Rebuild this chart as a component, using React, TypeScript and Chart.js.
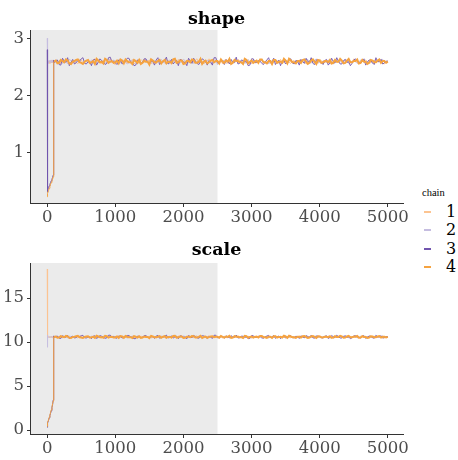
import React, { useEffect, useRef } from "react";
import { Chart, registerables } from "chart.js";
Chart.register(...registerables);

// ---------- data ----------
const CHAINS = ["1", "2", "3", "4"];
const CHAIN_COLORS = ["#FCC491", "#C5BDE0", "#7154AE", "#F5A340"];
const WARMUP = 2500;
const X_TICKS = [0, 1000, 2000, 3000, 4000, 5000];
const SHAPE_TICKS = [1, 2, 3];
const SCALE_TICKS = [0, 5, 10, 15];

// iterations at which the traces are sampled
const EARLY_ITERS = [1, 2, 5, 10, 20, 30, 40, 50, 60, 70, 80, 88, 92, 96];
const ITERS_A: number[] = []; // 100, 150, ..., 5000
for (let it = 100; it <= 5000; it += 50) ITERS_A.push(it);
const ITERS_B: number[] = []; // 125, 175, ..., 4975
for (let it = 125; it <= 4975; it += 50) ITERS_B.push(it);

// shape: early part (EARLY_ITERS)
const shapeEarly1 = [1.26, 2.6, 2.57, 2.62, 2.58, 2.6, 2.56, 2.61, 2.59, 2.57, 2.62, 2.58, 2.6, 2.57];
const shapeEarly2 = [3.0, 2.62, 2.58, 2.6, 2.56, 2.61, 2.59, 2.57, 2.62, 2.58, 2.6, 2.57, 2.61, 2.59];
const shapeEarly3 = [2.8, 0.3, 0.32, 0.34, 0.38, 0.41, 0.44, 0.47, 0.5, 0.53, 0.56, 0.6, 2.05, 2.62];
const shapeEarly4 = [0.22, 0.24, 0.26, 0.28, 0.33, 0.37, 0.4, 0.44, 0.47, 0.5, 0.53, 0.57, 1.8, 2.55];

// shape: ITERS_A
const shape1A = [
  2.58, 2.61, 2.56, 2.6, 2.63, 2.57, 2.59, 2.55, 2.62, 2.58,
  2.6, 2.57, 2.64, 2.59, 2.56, 2.61, 2.58, 2.6, 2.54, 2.62,
  2.59, 2.57, 2.61, 2.63, 2.58, 2.56, 2.6, 2.59, 2.62, 2.57,
  2.55, 2.6, 2.58, 2.63, 2.59, 2.61, 2.56, 2.58, 2.6, 2.62,
  2.57, 2.59, 2.64, 2.58, 2.55, 2.61, 2.6, 2.57, 2.59, 2.62,
  2.58, 2.56, 2.61, 2.59, 2.63, 2.57, 2.6, 2.58, 2.55, 2.62,
  2.59, 2.61, 2.57, 2.6, 2.58, 2.63, 2.56, 2.59, 2.61, 2.58,
  2.6, 2.57, 2.62, 2.59, 2.55, 2.61, 2.58, 2.6, 2.63, 2.57,
  2.59, 2.56, 2.61, 2.58, 2.62, 2.6, 2.57, 2.59, 2.64, 2.58,
  2.56, 2.61, 2.59, 2.57, 2.62, 2.6, 2.58, 2.55, 2.6,
];
const shape2A = [
  2.6, 2.57, 2.62, 2.58, 2.55, 2.61, 2.59, 2.63, 2.57, 2.6,
  2.58, 2.62, 2.56, 2.59, 2.61, 2.57, 2.64, 2.58, 2.6, 2.55,
  2.61, 2.59, 2.57, 2.62, 2.58, 2.6, 2.56, 2.63, 2.59, 2.61,
  2.57, 2.6, 2.58, 2.55, 2.62, 2.59, 2.61, 2.57, 2.63, 2.58,
  2.6, 2.56, 2.59, 2.62, 2.58, 2.61, 2.57, 2.6, 2.54, 2.59,
  2.62, 2.58, 2.6, 2.57, 2.61, 2.59, 2.56, 2.63, 2.58, 2.6,
  2.57, 2.62, 2.59, 2.55, 2.61, 2.58, 2.6, 2.57, 2.63, 2.59,
  2.56, 2.61, 2.58, 2.6, 2.62, 2.57, 2.59, 2.64, 2.58, 2.61,
  2.57, 2.6, 2.55, 2.62, 2.59, 2.58, 2.61, 2.57, 2.6, 2.56,
  2.62, 2.58, 2.59, 2.61, 2.57, 2.6, 2.63, 2.58, 2.59,
];
const shape3A = [
  2.57, 2.62, 2.53, 2.6, 2.66, 2.58, 2.55, 2.61, 2.64, 2.56,
  2.59, 2.52, 2.63, 2.58, 2.61, 2.54, 2.66, 2.59, 2.57, 2.62,
  2.55, 2.6, 2.65, 2.57, 2.53, 2.61, 2.58, 2.64, 2.56, 2.6,
  2.62, 2.54, 2.59, 2.67, 2.57, 2.55, 2.61, 2.63, 2.58, 2.52,
  2.6, 2.65, 2.56, 2.59, 2.62, 2.53, 2.58, 2.66, 2.57, 2.61,
  2.54, 2.6, 2.63, 2.58, 2.55, 2.62, 2.59, 2.52, 2.64, 2.57,
  2.61, 2.56, 2.59, 2.66, 2.58, 2.54, 2.62, 2.6, 2.55, 2.63,
  2.57, 2.61, 2.53, 2.59, 2.65, 2.58, 2.56, 2.62, 2.6, 2.54,
  2.63, 2.57, 2.59, 2.66, 2.55, 2.61, 2.58, 2.52, 2.62, 2.6,
  2.56, 2.64, 2.58, 2.61, 2.54, 2.59, 2.63, 2.57, 2.6,
];
const shape4A = [
  2.59, 2.56, 2.62, 2.58, 2.61, 2.55, 2.6, 2.63, 2.57, 2.59,
  2.62, 2.58, 2.55, 2.61, 2.59, 2.64, 2.57, 2.6, 2.58, 2.56,
  2.61, 2.63, 2.58, 2.55, 2.6, 2.62, 2.57, 2.59, 2.54, 2.61,
  2.58, 2.62, 2.6, 2.56, 2.59, 2.63, 2.57, 2.61, 2.55, 2.6,
  2.58, 2.62, 2.57, 2.64, 2.59, 2.56, 2.61, 2.58, 2.6, 2.63,
  2.57, 2.59, 2.55, 2.62, 2.6, 2.58, 2.64, 2.56, 2.61, 2.59,
  2.57, 2.63, 2.58, 2.6, 2.55, 2.62, 2.59, 2.57, 2.61, 2.64,
  2.58, 2.56, 2.6, 2.62, 2.59, 2.57, 2.63, 2.55, 2.61, 2.58,
  2.6, 2.62, 2.57, 2.59, 2.64, 2.56, 2.61, 2.58, 2.6, 2.63,
  2.57, 2.59, 2.55, 2.62, 2.58, 2.61, 2.57, 2.6, 2.59,
];
// shape: ITERS_B
const shape1B = [
  2.6, 2.57, 2.62, 2.59, 2.56, 2.61, 2.58, 2.63, 2.57, 2.6,
  2.55, 2.62, 2.59, 2.57, 2.61, 2.58, 2.64, 2.56, 2.6, 2.58,
  2.62, 2.57, 2.59, 2.55, 2.61, 2.63, 2.58, 2.6, 2.56, 2.59,
  2.62, 2.57, 2.61, 2.58, 2.54, 2.6, 2.63, 2.59, 2.57, 2.61,
  2.58, 2.62, 2.56, 2.6, 2.59, 2.64, 2.57, 2.61, 2.58, 2.55,
  2.6, 2.62, 2.57, 2.59, 2.61, 2.56, 2.63, 2.58, 2.6, 2.57,
  2.62, 2.59, 2.55, 2.61, 2.58, 2.6, 2.63, 2.57, 2.59, 2.56,
  2.61, 2.58, 2.62, 2.6, 2.57, 2.64, 2.59, 2.56, 2.61, 2.58,
  2.6, 2.55, 2.62, 2.59, 2.57, 2.61, 2.63, 2.58, 2.6, 2.56,
  2.59, 2.62, 2.57, 2.6, 2.58, 2.61, 2.56, 2.59,
];
const shape2B = [
  2.58, 2.61, 2.56, 2.6, 2.63, 2.57, 2.59, 2.62, 2.55, 2.6,
  2.58, 2.61, 2.57, 2.63, 2.59, 2.56, 2.6, 2.62, 2.58, 2.57,
  2.61, 2.55, 2.59, 2.62, 2.6, 2.57, 2.64, 2.58, 2.56, 2.61,
  2.59, 2.63, 2.57, 2.6, 2.58, 2.62, 2.56, 2.59, 2.61, 2.57,
  2.63, 2.58, 2.6, 2.55, 2.61, 2.59, 2.57, 2.62, 2.58, 2.6,
  2.56, 2.61, 2.59, 2.63, 2.57, 2.6, 2.58, 2.55, 2.62, 2.59,
  2.61, 2.57, 2.6, 2.58, 2.64, 2.56, 2.59, 2.61, 2.57, 2.62,
  2.58, 2.6, 2.56, 2.59, 2.63, 2.57, 2.61, 2.58, 2.55, 2.6,
  2.62, 2.59, 2.57, 2.61, 2.58, 2.63, 2.56, 2.6, 2.59, 2.57,
  2.61, 2.58, 2.62, 2.56, 2.6, 2.59, 2.63, 2.58,
];
const shape3B = [
  2.61, 2.54, 2.65, 2.58, 2.52, 2.63, 2.57, 2.6, 2.66, 2.55,
  2.59, 2.62, 2.53, 2.64, 2.58, 2.56, 2.67, 2.6, 2.54, 2.61,
  2.57, 2.65, 2.59, 2.52, 2.62, 2.56, 2.64, 2.58, 2.6, 2.53,
  2.66, 2.57, 2.61, 2.55, 2.63, 2.59, 2.52, 2.62, 2.58, 2.65,
  2.56, 2.6, 2.54, 2.64, 2.59, 2.61, 2.53, 2.66, 2.57, 2.6,
  2.63, 2.55, 2.58, 2.67, 2.56, 2.61, 2.59, 2.53, 2.64, 2.58,
  2.6, 2.54, 2.62, 2.57, 2.65, 2.59, 2.52, 2.61, 2.58, 2.64,
  2.55, 2.6, 2.63, 2.56, 2.59, 2.66, 2.54, 2.62, 2.58, 2.61,
  2.53, 2.65, 2.57, 2.6, 2.55, 2.63, 2.59, 2.56, 2.64, 2.58,
  2.61, 2.53, 2.62, 2.57, 2.66, 2.59, 2.55, 2.6,
];
const shape4B = [
  2.61, 2.57, 2.6, 2.63, 2.56, 2.59, 2.62, 2.58, 2.55, 2.61,
  2.57, 2.6, 2.64, 2.58, 2.56, 2.62, 2.59, 2.57, 2.61, 2.63,
  2.56, 2.6, 2.58, 2.62, 2.57, 2.55, 2.61, 2.59, 2.63, 2.58,
  2.6, 2.56, 2.62, 2.59, 2.57, 2.64, 2.58, 2.61, 2.56, 2.6,
  2.63, 2.57, 2.59, 2.55, 2.61, 2.58, 2.62, 2.6, 2.56, 2.59,
  2.61, 2.64, 2.57, 2.6, 2.58, 2.55, 2.62, 2.59, 2.57, 2.61,
  2.63, 2.58, 2.56, 2.6, 2.62, 2.57, 2.59, 2.64, 2.56, 2.61,
  2.58, 2.6, 2.57, 2.63, 2.55, 2.61, 2.59, 2.62, 2.57, 2.6,
  2.58, 2.56, 2.62, 2.59, 2.61, 2.57, 2.64, 2.58, 2.6, 2.56,
  2.62, 2.59, 2.57, 2.61, 2.58, 2.63, 2.6, 2.57,
];

// scale: early part (EARLY_ITERS)
const scaleEarly1 = [18.3, 10.55, 10.6, 10.52, 10.63, 10.57, 10.5, 10.61, 10.55, 10.66, 10.52, 10.58, 10.6, 10.54];
const scaleEarly2 = [9.4, 10.8, 10.55, 10.62, 10.5, 10.58, 10.64, 10.53, 10.6, 10.56, 10.49, 10.63, 10.57, 10.6];
const scaleEarly3 = [0.3, 0.45, 0.6, 0.8, 1.1, 1.4, 1.65, 1.9, 2.2, 2.55, 2.9, 3.4, 10.7, 10.52];
const scaleEarly4 = [0.4, 0.5, 0.65, 0.85, 1.15, 1.45, 1.7, 2.0, 2.3, 2.6, 3.0, 3.3, 9.3, 10.6];

// scale: ITERS_A
const scale1A = [
  10.55, 10.62, 10.48, 10.58, 10.67, 10.51, 10.6, 10.45, 10.64, 10.56,
  10.59, 10.5, 10.7, 10.57, 10.47, 10.63, 10.54, 10.61, 10.43, 10.66,
  10.58, 10.52, 10.62, 10.68, 10.55, 10.49, 10.6, 10.57, 10.65, 10.51,
  10.46, 10.61, 10.56, 10.69, 10.58, 10.63, 10.5, 10.55, 10.6, 10.66,
  10.52, 10.58, 10.71, 10.55, 10.46, 10.62, 10.6, 10.51, 10.57, 10.65,
  10.55, 10.48, 10.63, 10.58, 10.68, 10.52, 10.61, 10.56, 10.45, 10.66,
  10.58, 10.62, 10.51, 10.6, 10.55, 10.69, 10.48, 10.58, 10.63, 10.55,
  10.61, 10.51, 10.66, 10.58, 10.46, 10.63, 10.55, 10.6, 10.68, 10.52,
  10.58, 10.49, 10.62, 10.55, 10.66, 10.6, 10.51, 10.58, 10.71, 10.55,
  10.48, 10.63, 10.57, 10.51, 10.66, 10.6, 10.55, 10.46, 10.6,
];
const scale2A = [
  10.6, 10.51, 10.65, 10.55, 10.47, 10.62, 10.58, 10.68, 10.52, 10.6,
  10.55, 10.66, 10.49, 10.58, 10.63, 10.51, 10.71, 10.56, 10.61, 10.46,
  10.63, 10.57, 10.52, 10.66, 10.55, 10.6, 10.48, 10.68, 10.58, 10.62,
  10.52, 10.6, 10.55, 10.46, 10.66, 10.58, 10.63, 10.51, 10.68, 10.55,
  10.61, 10.49, 10.58, 10.65, 10.55, 10.62, 10.51, 10.6, 10.44, 10.58,
  10.66, 10.55, 10.61, 10.51, 10.63, 10.58, 10.48, 10.68, 10.55, 10.6,
  10.51, 10.66, 10.58, 10.46, 10.62, 10.55, 10.6, 10.52, 10.68, 10.57,
  10.49, 10.63, 10.55, 10.61, 10.65, 10.51, 10.58, 10.71, 10.55, 10.62,
  10.52, 10.6, 10.46, 10.66, 10.58, 10.55, 10.63, 10.51, 10.61, 10.48,
  10.66, 10.55, 10.58, 10.63, 10.51, 10.6, 10.68, 10.55, 10.58,
];
const scale3A = [
  10.52, 10.68, 10.4, 10.61, 10.76, 10.55, 10.45, 10.64, 10.72, 10.48,
  10.59, 10.38, 10.7, 10.54, 10.65, 10.42, 10.77, 10.58, 10.5, 10.69,
  10.46, 10.62, 10.74, 10.51, 10.39, 10.65, 10.56, 10.73, 10.47, 10.61,
  10.68, 10.43, 10.58, 10.79, 10.52, 10.45, 10.66, 10.71, 10.55, 10.37,
  10.62, 10.75, 10.48, 10.59, 10.69, 10.41, 10.56, 10.77, 10.51, 10.65,
  10.43, 10.61, 10.72, 10.55, 10.46, 10.68, 10.58, 10.38, 10.73, 10.52,
  10.65, 10.47, 10.59, 10.76, 10.55, 10.42, 10.69, 10.62, 10.45, 10.71,
  10.51, 10.66, 10.4, 10.58, 10.74, 10.54, 10.48, 10.68, 10.61, 10.43,
  10.72, 10.52, 10.59, 10.77, 10.46, 10.65, 10.55, 10.38, 10.69, 10.61,
  10.48, 10.73, 10.55, 10.64, 10.42, 10.58, 10.71, 10.51, 10.6,
];
const scale4A = [
  10.58, 10.49, 10.66, 10.55, 10.63, 10.46, 10.6, 10.7, 10.52, 10.58,
  10.66, 10.55, 10.47, 10.63, 10.58, 10.71, 10.51, 10.6, 10.55, 10.48,
  10.63, 10.68, 10.55, 10.46, 10.6, 10.66, 10.51, 10.58, 10.44, 10.63,
  10.55, 10.66, 10.6, 10.49, 10.58, 10.69, 10.51, 10.63, 10.46, 10.6,
  10.55, 10.66, 10.51, 10.71, 10.58, 10.48, 10.63, 10.55, 10.6, 10.68,
  10.51, 10.58, 10.46, 10.66, 10.6, 10.55, 10.71, 10.49, 10.63, 10.58,
  10.51, 10.68, 10.55, 10.6, 10.46, 10.66, 10.58, 10.51, 10.63, 10.71,
  10.55, 10.48, 10.6, 10.66, 10.58, 10.51, 10.68, 10.46, 10.63, 10.55,
  10.6, 10.66, 10.51, 10.58, 10.71, 10.49, 10.63, 10.55, 10.6, 10.68,
  10.51, 10.58, 10.46, 10.66, 10.55, 10.63, 10.51, 10.6, 10.58,
];
// scale: ITERS_B
const scale1B = [
  10.6, 10.51, 10.64, 10.56, 10.47, 10.62, 10.55, 10.68, 10.52, 10.59,
  10.46, 10.63, 10.57, 10.5, 10.66, 10.55, 10.7, 10.49, 10.61, 10.54,
  10.65, 10.51, 10.58, 10.45, 10.62, 10.67, 10.55, 10.6, 10.48, 10.58,
  10.64, 10.52, 10.61, 10.56, 10.44, 10.6, 10.68, 10.57, 10.51, 10.63,
  10.55, 10.66, 10.48, 10.6, 10.57, 10.71, 10.51, 10.62, 10.55, 10.46,
  10.6, 10.65, 10.52, 10.58, 10.63, 10.49, 10.68, 10.55, 10.61, 10.51,
  10.66, 10.57, 10.46, 10.62, 10.55, 10.6, 10.69, 10.52, 10.58, 10.48,
  10.63, 10.55, 10.66, 10.6, 10.51, 10.71, 10.57, 10.49, 10.62, 10.55,
  10.6, 10.45, 10.65, 10.57, 10.51, 10.63, 10.68, 10.55, 10.6, 10.48,
  10.58, 10.65, 10.51, 10.6, 10.55, 10.62, 10.49, 10.58,
];
const scale2B = [
  10.55, 10.63, 10.48, 10.6, 10.68, 10.51, 10.58, 10.65, 10.46, 10.6,
  10.55, 10.63, 10.51, 10.69, 10.57, 10.48, 10.61, 10.66, 10.55, 10.51,
  10.63, 10.45, 10.58, 10.66, 10.6, 10.51, 10.71, 10.55, 10.49, 10.62,
  10.58, 10.68, 10.51, 10.6, 10.55, 10.66, 10.48, 10.58, 10.63, 10.51,
  10.68, 10.55, 10.6, 10.46, 10.62, 10.57, 10.51, 10.65, 10.55, 10.6,
  10.48, 10.63, 10.57, 10.69, 10.51, 10.6, 10.55, 10.45, 10.66, 10.58,
  10.62, 10.51, 10.6, 10.55, 10.71, 10.49, 10.58, 10.63, 10.51, 10.66,
  10.55, 10.6, 10.48, 10.58, 10.68, 10.51, 10.62, 10.55, 10.46, 10.6,
  10.66, 10.57, 10.51, 10.63, 10.55, 10.69, 10.49, 10.6, 10.58, 10.51,
  10.63, 10.55, 10.66, 10.48, 10.6, 10.57, 10.68, 10.55,
];
const scale3B = [
  10.63, 10.44, 10.72, 10.55, 10.39, 10.68, 10.51, 10.61, 10.76, 10.46,
  10.58, 10.66, 10.41, 10.73, 10.55, 10.48, 10.78, 10.61, 10.43, 10.65,
  10.52, 10.74, 10.58, 10.38, 10.67, 10.49, 10.72, 10.55, 10.61, 10.41,
  10.76, 10.52, 10.65, 10.46, 10.7, 10.58, 10.38, 10.67, 10.55, 10.74,
  10.48, 10.61, 10.43, 10.72, 10.58, 10.65, 10.41, 10.77, 10.51, 10.61,
  10.7, 10.46, 10.55, 10.79, 10.48, 10.65, 10.58, 10.41, 10.72, 10.55,
  10.61, 10.43, 10.68, 10.52, 10.74, 10.58, 10.38, 10.65, 10.55, 10.72,
  10.46, 10.61, 10.7, 10.48, 10.58, 10.76, 10.43, 10.67, 10.55, 10.65,
  10.4, 10.74, 10.52, 10.61, 10.46, 10.7, 10.58, 10.48, 10.72, 10.55,
  10.65, 10.41, 10.68, 10.51, 10.77, 10.58, 10.45, 10.61,
];
const scale4B = [
  10.63, 10.51, 10.6, 10.69, 10.48, 10.58, 10.66, 10.55, 10.46, 10.63,
  10.51, 10.6, 10.71, 10.55, 10.48, 10.66, 10.58, 10.51, 10.63, 10.68,
  10.48, 10.6, 10.55, 10.66, 10.51, 10.46, 10.63, 10.58, 10.69, 10.55,
  10.6, 10.48, 10.66, 10.58, 10.51, 10.71, 10.55, 10.63, 10.48, 10.6,
  10.68, 10.51, 10.58, 10.46, 10.63, 10.55, 10.66, 10.6, 10.48, 10.58,
  10.63, 10.71, 10.51, 10.6, 10.55, 10.46, 10.66, 10.58, 10.51, 10.63,
  10.68, 10.55, 10.48, 10.6, 10.66, 10.51, 10.58, 10.71, 10.48, 10.63,
  10.55, 10.6, 10.51, 10.68, 10.46, 10.63, 10.58, 10.66, 10.51, 10.6,
  10.55, 10.48, 10.66, 10.58, 10.63, 10.51, 10.71, 10.55, 10.6, 10.48,
  10.66, 10.58, 10.51, 10.63, 10.55, 10.68, 10.6, 10.51,
];

type ChainTrace = { early: number[]; a: number[]; b: number[] };
const SHAPE_SERIES: ChainTrace[] = [
  { early: shapeEarly1, a: shape1A, b: shape1B },
  { early: shapeEarly2, a: shape2A, b: shape2B },
  { early: shapeEarly3, a: shape3A, b: shape3B },
  { early: shapeEarly4, a: shape4A, b: shape4B },
];
const SCALE_SERIES: ChainTrace[] = [
  { early: scaleEarly1, a: scale1A, b: scale1B },
  { early: scaleEarly2, a: scale2A, b: scale2B },
  { early: scaleEarly3, a: scale3A, b: scale3B },
  { early: scaleEarly4, a: scale4A, b: scale4B },
];

function toPoints(t: ChainTrace) {
  const pts = [
    ...t.early.map((y, i) => ({ x: EARLY_ITERS[i], y })),
    ...t.a.map((y, i) => ({ x: ITERS_A[i], y })),
    ...t.b.map((y, i) => ({ x: ITERS_B[i], y })),
  ];
  pts.sort((p, q) => p.x - q.x);
  return pts;
}

// ---------- styling ----------
const TICK_FONT = { family: "'DejaVu Serif', serif", size: 16.5 };
const TICK_COLOR = "#4D4D4D";
const AXIS_COLOR = "#333333";
const PANEL_W = 410;
const STEADY_WIDTHS = [1, 1, 0.9, 2];

const warmupPlugin = {
  id: "warmup",
  beforeDraw(chart: any) {
    const { ctx, chartArea, scales } = chart;
    const xr = scales.x.getPixelForValue(WARMUP);
    ctx.save();
    ctx.fillStyle = "#EBEBEB";
    ctx.fillRect(chartArea.left, chartArea.top, xr - chartArea.left, chartArea.bottom - chartArea.top);
    ctx.restore();
  },
};

const titlePlugin = {
  id: "panelTitle",
  afterDraw(chart: any, _args: any, opts: any) {
    const { ctx, chartArea } = chart;
    ctx.save();
    ctx.font = "bold 17.5px 'DejaVu Serif', serif";
    ctx.fillStyle = "#000";
    ctx.textAlign = "center";
    ctx.textBaseline = "alphabetic";
    ctx.fillText(opts.text, (chartArea.left + chartArea.right) / 2, opts.baseline);
    ctx.restore();
  },
};

type PanelProps = {
  title: string;
  top: number;
  height: number;
  areaTop: number;
  xAxisHeight: number;
  titleBaseline: number;
  yMin: number;
  yMax: number;
  yTicks: number[];
  series: ChainTrace[];
};

function TracePanel(p: PanelProps) {
  const ref = useRef<HTMLCanvasElement>(null);
  useEffect(() => {
    if (!ref.current) return;
    const datasets = p.series.map((t, i) => ({
      label: CHAINS[i],
      data: toPoints(t),
      borderColor: CHAIN_COLORS[i],
      borderWidth: STEADY_WIDTHS[i],
      segment: {
        borderWidth: (c: any) => (c.p0.parsed.x < 100 ? 1 : STEADY_WIDTHS[i]),
      },
      pointRadius: 0,
      fill: false,
      tension: 0,
      order: CHAINS.length - i,
    }));
    const chart = new Chart(ref.current, {
      type: "line",
      data: { datasets },
      options: {
        animation: false,
        responsive: false,
        events: [],
        layout: { padding: { top: p.areaTop, right: 4, left: 0, bottom: 0 } },
        plugins: {
          legend: { display: false },
          tooltip: { enabled: false },
          title: { display: false },
          panelTitle: { text: p.title, baseline: p.titleBaseline },
        } as any,
        scales: {
          x: {
            type: "linear",
            min: -252,
            max: 5223,
            afterBuildTicks: (s: any) => {
              s.ticks = X_TICKS.map((v) => ({ value: v }));
            },
            afterFit: (s: any) => {
              s.height = p.xAxisHeight;
            },
            grid: { display: true, drawOnChartArea: false, drawTicks: true, tickLength: 4, color: AXIS_COLOR },
            border: { display: true, color: AXIS_COLOR, width: 1 },
            ticks: {
              font: TICK_FONT,
              color: TICK_COLOR,
              padding: 1,
              maxRotation: 0,
              autoSkip: false,
              callback: (v: any) => String(v),
            },
          },
          y: {
            type: "linear",
            min: p.yMin,
            max: p.yMax,
            afterBuildTicks: (s: any) => {
              s.ticks = p.yTicks.map((v) => ({ value: v }));
            },
            afterFit: (s: any) => {
              s.width = 30;
            },
            grid: { display: true, drawOnChartArea: false, drawTicks: true, tickLength: 3, color: AXIS_COLOR },
            border: { display: true, color: AXIS_COLOR, width: 1 },
            ticks: { font: TICK_FONT, color: TICK_COLOR, padding: 3, autoSkip: false, callback: (v: any) => String(v) },
          },
        },
      },
      plugins: [warmupPlugin, titlePlugin],
    });
    return () => chart.destroy();
  }, []);
  return (
    <div style={{ position: "absolute", left: 0, top: p.top, width: PANEL_W, height: p.height }}>
      <canvas ref={ref} width={PANEL_W} height={p.height} style={{ display: "block" }} />
    </div>
  );
}

function Legend() {
  return (
    <div style={{ position: "absolute", left: 422, top: 186, width: 36, height: 100 }}>
      <div
        style={{
          position: "absolute",
          left: 0,
          top: 0,
          fontFamily: "'Liberation Serif', serif",
          fontSize: 10.5,
          lineHeight: "14px",
          color: "#000",
        }}
      >
        chain
      </div>
      {CHAINS.map((c, i) => (
        <div key={c} style={{ position: "absolute", left: 0, top: 17 + i * 18.3, height: 18, width: 36 }}>
          <div
            style={{
              position: "absolute",
              left: 2,
              top: 8,
              width: 7,
              height: 2,
              background: CHAIN_COLORS[i],
            }}
          />
          <div
            style={{
              position: "absolute",
              left: 24,
              top: 0,
              fontFamily: "'DejaVu Serif', serif",
              fontSize: 16,
              lineHeight: "18px",
              color: "#000",
            }}
          >
            {c}
          </div>
        </div>
      ))}
    </div>
  );
}

export default function App() {
  return (
    <div style={{ position: "fixed", left: 0, top: 0, width: 458, height: 460, background: "#fff", overflow: "hidden" }}>
      <TracePanel
        title="shape"
        top={0}
        height={230}
        areaTop={30}
        xAxisHeight={27}
        titleBaseline={24}
        yMin={0.111}
        yMax={3.146}
        yTicks={SHAPE_TICKS}
        series={SHAPE_SERIES}
      />
      <TracePanel
        title="scale"
        top={230}
        height={230}
        areaTop={33}
        xAxisHeight={26}
        titleBaseline={25}
        yMin={-0.45}
        yMax={18.98}
        yTicks={SCALE_TICKS}
        series={SCALE_SERIES}
      />
      <Legend />
    </div>
  );
}
